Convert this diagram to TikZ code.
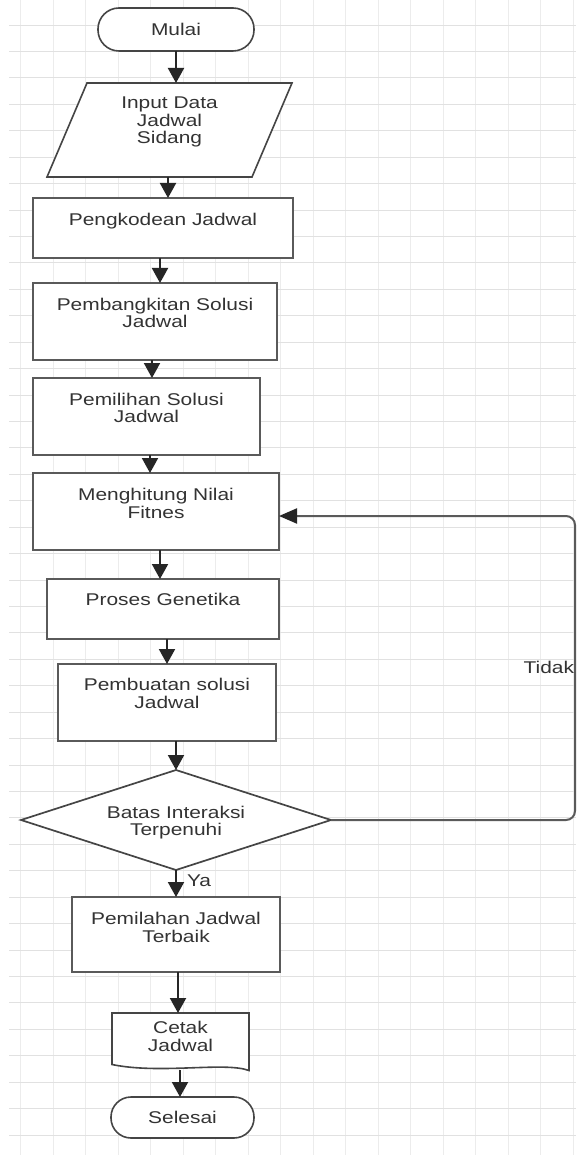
\documentclass[tikz,border=0pt]{standalone}
\usepackage{fontspec}
\setmainfont{Liberation Sans}[FakeStretch=1.23]
\usetikzlibrary{arrows.meta,shapes.geometric,calc}
\definecolor{ink}{HTML}{333333}
\definecolor{edge}{HTML}{5A5A5A}
\definecolor{rim}{HTML}{454545}
\definecolor{rule}{HTML}{262626}
\definecolor{gridh}{HTML}{E1E1E1}
\definecolor{gridv}{HTML}{ECECEC}
% fixed-height line strut so every text line has the same box
\newcommand\lnstrut{\rule[-4.3pt]{0pt}{16.3pt}}
\begin{document}
\begin{tikzpicture}[x=1pt,y=-1pt,
  every node/.style={inner sep=0pt, outer sep=0pt},
  txt/.style={text=ink, font=\fontsize{17}{16.3}\selectfont, align=center},
  proc/.style={rectangle, draw=edge, line width=2pt, fill=white},
  term/.style={rectangle, draw=rim, line width=1.6pt, fill=white},
  decide/.style={diamond, draw=rim, line width=1.7pt, fill=white},
  frame/.style={rectangle},
  arr/.style={draw=rule, line width=2pt, -{Triangle[length=15pt,width=16pt]}},
  back/.style={draw=edge, line width=2pt, rounded corners=9pt, -{Triangle[length=18pt,width=15pt,color=rule]}},
  gline/.style={line width=1pt}
]
\clip (0,0) rectangle (576,1155);
\fill[white] (0,0) rectangle (576,1155);

% background grid
\foreach \k in {0,...,17}
  \draw[gline, draw=gridv, line width=1.3pt] ({20.8+32.5*\k},0) -- ({20.8+32.5*\k},1155);
\foreach \k in {0,...,44}
  \draw[gline, draw=gridh] (9,{-1.4+26.43*\k}) -- (576,{-1.4+26.43*\k});

% start terminator
\node[term, rounded corners=21pt, minimum width=156pt, minimum height=43pt] (mulai) at (176,29.5) {};
\node[txt] (mulai-t) at (176,31.8) {\lnstrut Mulai};

% input parallelogram
\node[frame, minimum width=245pt, minimum height=94pt] (in) at (169.5,130) {};
\draw[draw=rim, line width=1.6pt, fill=white]
  ($(in.north west)+(40,0)$) -- (in.north east) -- ($(in.south east)-(40,0)$) -- (in.south west) -- cycle;
\node[txt] (in-t) at (169.5,122.5) {\lnstrut Input Data\\\lnstrut Jadwal\\\lnstrut Sidang};

% process boxes
\node[proc, minimum width=260pt, minimum height=60pt] (pk) at (163,228) {};
\node[txt] (pk-t) at (163,221.8) {\lnstrut Pengkodean Jadwal};

\node[proc, minimum width=244pt, minimum height=77pt] (pb) at (155,321.5) {};
\node[txt] (pb-t) at (155,314.8) {\lnstrut Pembangkitan Solusi\\\lnstrut Jadwal};

\node[proc, minimum width=227pt, minimum height=77pt] (pm) at (146.5,416.5) {};
\node[txt] (pm-t) at (146.5,409.8) {\lnstrut Pemilihan Solusi\\\lnstrut Jadwal};

\node[proc, minimum width=246pt, minimum height=77pt] (mh) at (156,511.5) {};
\node[txt] (mh-t) at (156,505.3) {\lnstrut Menghitung Nilai\\\lnstrut Fitnes};

\node[proc, minimum width=232pt, minimum height=60pt] (pg) at (163,609) {};
\node[txt] (pg-t) at (163,601.8) {\lnstrut Proses Genetika};

\node[proc, minimum width=218pt, minimum height=77pt] (pu) at (167,702.5) {};
\node[txt] (pu-t) at (167,695.6) {\lnstrut Pembuatan solusi\\\lnstrut Jadwal};

% decision
\node[decide, minimum width=310pt, minimum height=100pt] (dm) at (176,820) {};
\node[txt] (dm-t) at (176,822.8) {\lnstrut Batas Interaksi\\\lnstrut Terpenuhi};

\node[proc, minimum width=208pt, minimum height=75pt] (pl) at (176,934.5) {};
\node[txt] (pl-t) at (176,929.5) {\lnstrut Pemilahan Jadwal\\\lnstrut Terbaik};

% output document
\node[frame, minimum width=137pt, minimum height=57pt] (doc) at (180.5,1041.5) {};
\draw[draw=rim, line width=1.6pt, fill=white]
  (doc.north west) -- (doc.north east) -- ($(doc.south east)+(0,0.5)$)
  .. controls ($(doc.south east)+(-24,-8.5)$) and ($(doc.south west)+(48,4.5)$) .. ($(doc.south west)+(0,-5.5)$)
  -- cycle;
\node[txt] (doc-t) at (180.5,1038.2) {\lnstrut Cetak\\\lnstrut Jadwal};

% end terminator
\node[term, rounded corners=20pt, minimum width=143pt, minimum height=41pt] (sel) at (182.5,1117.5) {};
\node[txt] (sel-t) at (182.5,1119.5) {\lnstrut Selesai};

% connectors
\draw[arr] (mulai.south) -- (mulai.south |- in.north);
\draw[arr] (in.south -| 168,0) -- (pk.north -| 168,0);
\draw[arr] (pk.south -| 160,0) -- (pb.north -| 160,0);
\draw[arr] (pb.south -| 152,0) -- (pm.north -| 152,0);
\draw[arr] (pm.south -| 150,0) -- (mh.north -| 150,0);
\draw[arr] (mh.south -| 160,0) -- (pg.north -| 160,0);
\draw[arr] (pg.south -| 167,0) -- (pu.north -| 167,0);
\draw[arr] (pu.south -| dm.north) -- (dm.north);
\draw[arr] (dm.south) -- (pl.north);
\draw[arr] (pl.south -| 178,0) -- (doc.north -| 178,0);
\draw[arr] (doc.south -| 180,0) -- (sel.north -| 180,0);

% loop back when the limit is not reached
\coordinate (rt) at (575,516);
\draw[back] (dm.east) -| (rt) -- (rt -| mh.east);

% branch labels
\node[txt, anchor=base west] (ya) at (187,886.7) {Ya};
\node[txt, anchor=base east] (tidak) at (574,673.3) {Tidak};
\end{tikzpicture}
\end{document}
